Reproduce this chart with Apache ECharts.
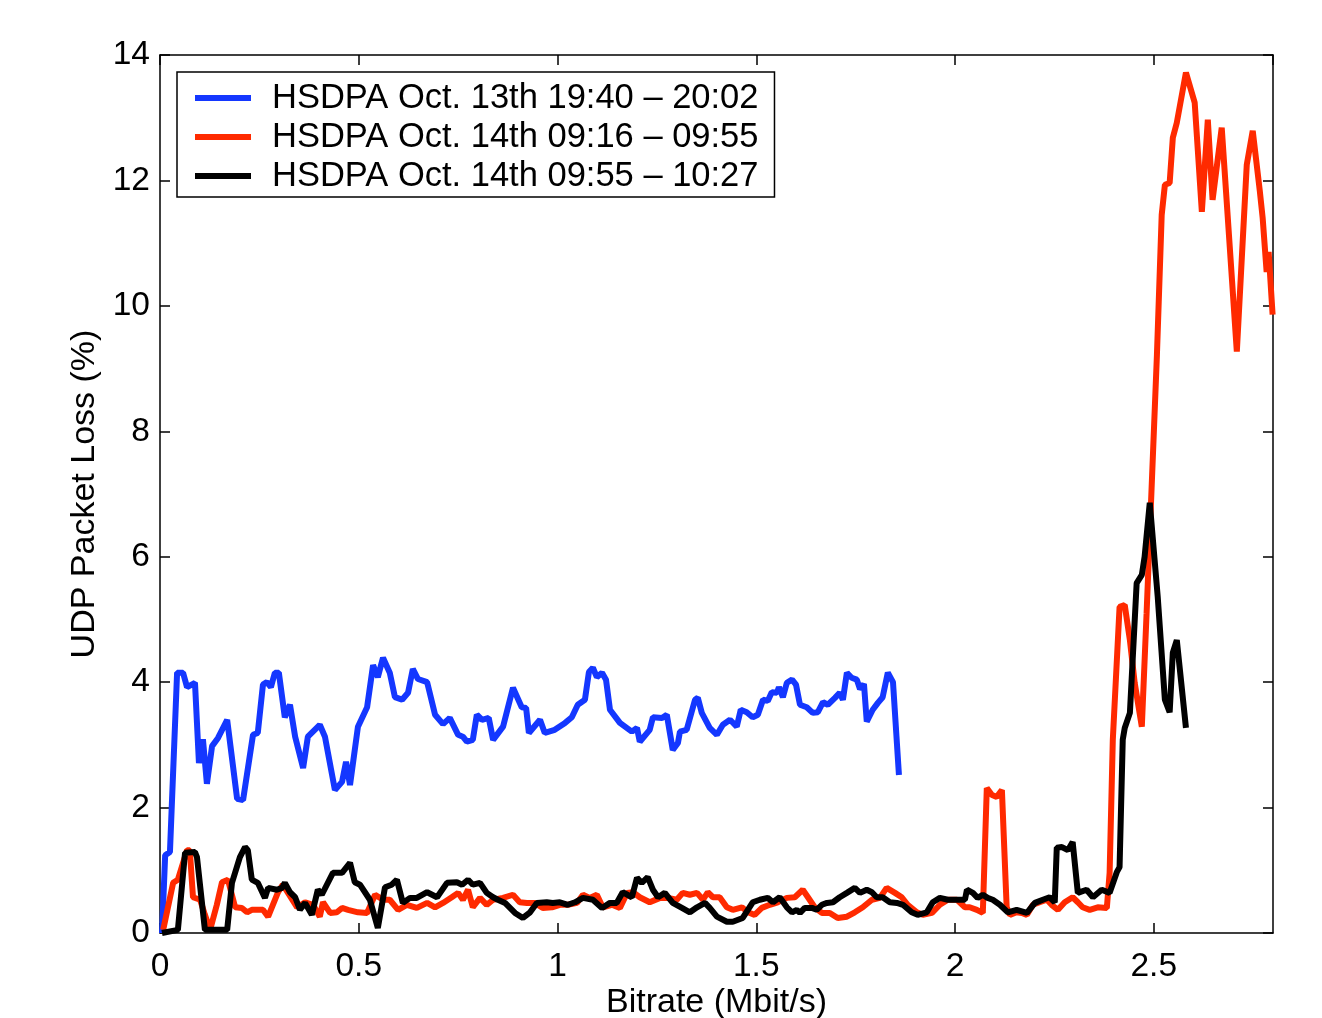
<!DOCTYPE html>
<html>
<head>
<meta charset="utf-8">
<script src="https://cdn.jsdelivr.net/npm/echarts@6/dist/echarts.min.js"></script>
<style>
  html, body { margin: 0; padding: 0; background: #fff; }
  #main { width: 1322px; height: 1018px; }
</style>
</head>
<body>
<div id="main"></div>
<script>
var seriesNames = [
  'HSDPA Oct. 13th 19:40 \u2013 20:02',
  'HSDPA Oct. 14th 09:16 \u2013 09:55',
  'HSDPA Oct. 14th 09:55 \u2013 10:27'
];

// [bitrate Mbit/s, loss %]
var blueLoss = [
  [0.005,0],[0.013,1.24],[0.025,1.29],[0.043,4.15],[0.058,4.15],[0.068,3.92],[0.088,3.99],[0.098,2.71],
  [0.108,3.09],[0.118,2.38],[0.131,2.98],[0.146,3.11],[0.169,3.40],[0.194,2.14],[0.209,2.12],[0.234,3.16],
  [0.246,3.19],[0.259,3.96],[0.269,4.0],[0.279,3.92],[0.289,4.15],[0.299,4.15],[0.314,3.44],[0.327,3.64],
  [0.340,3.13],[0.360,2.63],[0.372,3.13],[0.402,3.32],[0.415,3.13],[0.440,2.28],[0.458,2.41],[0.468,2.73],
  [0.478,2.36],[0.498,3.29],[0.521,3.60],[0.536,4.27],[0.548,4.08],[0.561,4.39],[0.578,4.15],[0.591,3.76],
  [0.609,3.72],[0.624,3.83],[0.636,4.21],[0.649,4.05],[0.672,4.0],[0.692,3.48],[0.712,3.33],[0.729,3.43],
  [0.750,3.16],[0.762,3.13],[0.772,3.05],[0.787,3.08],[0.797,3.48],[0.810,3.40],[0.827,3.43],[0.838,3.08],
  [0.863,3.29],[0.888,3.91],[0.910,3.60],[0.921,3.59],[0.928,3.19],[0.956,3.40],[0.968,3.19],[0.993,3.24],
  [1.019,3.35],[1.036,3.44],[1.051,3.64],[1.069,3.72],[1.079,4.16],[1.089,4.23],[1.099,4.08],[1.112,4.15],
  [1.122,4.04],[1.132,3.56],[1.157,3.35],[1.187,3.21],[1.200,3.27],[1.207,3.05],[1.232,3.24],[1.240,3.44],
  [1.263,3.43],[1.275,3.48],[1.290,2.92],[1.303,3.03],[1.308,3.21],[1.325,3.24],[1.346,3.72],[1.353,3.75],
  [1.363,3.51],[1.383,3.27],[1.401,3.16],[1.416,3.32],[1.434,3.40],[1.451,3.29],[1.461,3.56],[1.476,3.52],
  [1.491,3.44],[1.504,3.48],[1.517,3.72],[1.529,3.70],[1.539,3.84],[1.552,3.83],[1.557,3.92],[1.567,3.76],
  [1.577,3.99],[1.590,4.04],[1.600,3.96],[1.610,3.64],[1.627,3.60],[1.642,3.51],[1.655,3.52],[1.668,3.68],
  [1.680,3.64],[1.698,3.75],[1.710,3.83],[1.718,3.72],[1.728,4.15],[1.740,4.07],[1.753,4.04],[1.761,3.89],
  [1.771,3.97],[1.778,3.37],[1.793,3.56],[1.806,3.67],[1.818,3.76],[1.831,4.15],[1.844,4.00],[1.859,2.52]
];

var redLoss = [
  [0.008,0.05],[0.033,0.80],[0.045,0.85],[0.068,1.32],[0.075,1.32],[0.083,0.57],[0.101,0.53],[0.113,0.29],
  [0.126,0.05],[0.143,0.45],[0.156,0.81],[0.171,0.85],[0.189,0.41],[0.206,0.40],[0.219,0.33],[0.231,0.37],
  [0.259,0.37],[0.272,0.26],[0.297,0.65],[0.309,0.77],[0.322,0.64],[0.345,0.41],[0.365,0.49],[0.385,0.45],
  [0.402,0.26],[0.410,0.49],[0.428,0.32],[0.445,0.33],[0.458,0.40],[0.473,0.37],[0.498,0.33],[0.521,0.32],
  [0.541,0.61],[0.561,0.53],[0.578,0.53],[0.599,0.37],[0.621,0.45],[0.646,0.40],[0.672,0.48],[0.692,0.41],
  [0.712,0.48],[0.734,0.57],[0.750,0.64],[0.762,0.53],[0.775,0.69],[0.787,0.41],[0.805,0.56],[0.822,0.45],
  [0.838,0.53],[0.863,0.56],[0.888,0.61],[0.905,0.49],[0.923,0.48],[0.943,0.48],[0.963,0.40],[0.986,0.41],
  [1.006,0.45],[1.026,0.45],[1.049,0.48],[1.064,0.61],[1.081,0.56],[1.099,0.61],[1.114,0.41],[1.137,0.45],
  [1.157,0.40],[1.175,0.64],[1.190,0.65],[1.207,0.57],[1.232,0.49],[1.258,0.56],[1.278,0.56],[1.300,0.53],
  [1.315,0.64],[1.333,0.61],[1.351,0.64],[1.366,0.53],[1.378,0.65],[1.391,0.57],[1.408,0.57],[1.426,0.41],
  [1.441,0.37],[1.464,0.41],[1.479,0.33],[1.496,0.29],[1.514,0.40],[1.534,0.45],[1.554,0.49],[1.577,0.56],
  [1.597,0.57],[1.617,0.69],[1.630,0.57],[1.647,0.41],[1.665,0.32],[1.685,0.32],[1.705,0.24],[1.728,0.26],
  [1.748,0.33],[1.768,0.41],[1.791,0.53],[1.811,0.56],[1.828,0.72],[1.849,0.64],[1.866,0.57],[1.881,0.45],
  [1.904,0.33],[1.919,0.29],[1.942,0.32],[1.962,0.45],[1.982,0.53],[2.005,0.53],[2.025,0.41],[2.037,0.41],
  [2.055,0.37],[2.070,0.32],[2.080,2.31],[2.093,2.20],[2.105,2.17],[2.118,2.28],[2.130,0.41],[2.138,0.29],
  [2.155,0.33],[2.168,0.32],[2.181,0.29],[2.196,0.45],[2.213,0.49],[2.231,0.53],[2.243,0.45],[2.259,0.37],
  [2.276,0.49],[2.296,0.57],[2.309,0.49],[2.321,0.41],[2.339,0.37],[2.359,0.41],[2.382,0.40],[2.389,0.96],
  [2.397,3.08],[2.414,5.20],[2.427,5.23],[2.440,4.67],[2.452,3.99],[2.470,3.29],[2.482,5.10],[2.508,9.22],
  [2.520,11.45],[2.528,11.93],[2.540,11.96],[2.548,12.68],[2.558,12.92],[2.581,13.72],[2.603,13.24],[2.621,11.50],
  [2.636,12.97],[2.648,11.69],[2.671,12.84],[2.709,9.27],[2.734,12.25],[2.749,12.79],[2.767,11.82],[2.774,11.40],
  [2.784,10.54],[2.789,10.86],[2.799,9.86]
];

var blackLoss = [
  [0.005,0.0],[0.045,0.05],[0.063,1.28],[0.088,1.29],[0.093,1.21],[0.113,0.05],[0.169,0.05],[0.181,0.80],
  [0.201,1.21],[0.214,1.37],[0.221,1.32],[0.231,0.85],[0.246,0.80],[0.264,0.56],[0.272,0.72],[0.294,0.69],
  [0.307,0.72],[0.314,0.80],[0.327,0.65],[0.340,0.57],[0.352,0.37],[0.365,0.48],[0.382,0.29],[0.397,0.69],
  [0.407,0.61],[0.435,0.96],[0.458,0.96],[0.478,1.12],[0.490,0.81],[0.503,0.77],[0.528,0.53],[0.548,0.08],
  [0.566,0.73],[0.583,0.77],[0.596,0.85],[0.611,0.48],[0.629,0.56],[0.646,0.56],[0.672,0.65],[0.697,0.57],
  [0.722,0.80],[0.747,0.81],[0.760,0.77],[0.775,0.85],[0.787,0.77],[0.805,0.80],[0.822,0.64],[0.838,0.57],
  [0.850,0.53],[0.868,0.48],[0.893,0.32],[0.913,0.24],[0.931,0.33],[0.948,0.48],[0.973,0.49],[0.988,0.48],
  [1.006,0.49],[1.026,0.45],[1.044,0.49],[1.064,0.56],[1.089,0.53],[1.112,0.40],[1.132,0.48],[1.149,0.48],
  [1.164,0.65],[1.187,0.57],[1.200,0.88],[1.212,0.80],[1.227,0.89],[1.240,0.69],[1.253,0.57],[1.270,0.64],
  [1.290,0.48],[1.313,0.40],[1.333,0.33],[1.351,0.41],[1.371,0.48],[1.383,0.40],[1.401,0.26],[1.426,0.18],
  [1.441,0.18],[1.466,0.24],[1.491,0.49],[1.509,0.53],[1.529,0.56],[1.542,0.49],[1.559,0.57],[1.577,0.41],
  [1.590,0.33],[1.602,0.37],[1.610,0.32],[1.622,0.40],[1.640,0.40],[1.652,0.37],[1.665,0.45],[1.678,0.48],
  [1.693,0.49],[1.710,0.57],[1.728,0.64],[1.748,0.72],[1.761,0.64],[1.778,0.69],[1.791,0.65],[1.803,0.57],
  [1.818,0.57],[1.836,0.49],[1.854,0.48],[1.869,0.45],[1.891,0.33],[1.906,0.29],[1.929,0.33],[1.944,0.49],
  [1.962,0.56],[1.982,0.53],[2.005,0.53],[2.025,0.53],[2.030,0.69],[2.045,0.64],[2.057,0.56],[2.070,0.61],
  [2.082,0.56],[2.095,0.53],[2.113,0.45],[2.133,0.33],[2.155,0.37],[2.181,0.32],[2.201,0.48],[2.221,0.53],
  [2.238,0.57],[2.251,0.49],[2.256,1.36],[2.269,1.37],[2.284,1.32],[2.296,1.45],[2.309,0.64],[2.331,0.69],
  [2.347,0.57],[2.369,0.69],[2.389,0.64],[2.407,0.97],[2.414,1.05],[2.422,3.08],[2.427,3.27],[2.440,3.51],
  [2.457,5.58],[2.470,5.71],[2.477,6.00],[2.490,6.86],[2.510,5.36],[2.528,3.72],[2.540,3.52],[2.548,4.47],
  [2.558,4.67],[2.581,3.27]
];

var lineColors = ['#1437ff', '#ff2a00', '#000000'];
var font = 'Liberation Sans, Arial, Helvetica, sans-serif';

var myChart = echarts.init(document.getElementById('main'));

// fresh objects for every axis so echarts doesn't share them
function frameLine() {
    return { show: true, onZero: false, lineStyle: { color: '#000', width: 1.5 } };
}
function frameTick() {
    return { show: true, inside: true, length: 10, lineStyle: { color: '#000', width: 1.5 } };
}

var option = {
    animation: false,
    backgroundColor: '#fff',
    color: lineColors,
    grid: { left: 160, right: 49, top: 55, bottom: 85, outerBoundsMode: 'none' },
    legend: {
        orient: 'vertical',
        left: 177,
        top: 72,
        padding: [8, 16, 3, 18],
        itemWidth: 56,
        itemHeight: 6,
        itemGap: 3,
        icon: 'rect',
        borderColor: '#000',
        borderWidth: 1.5,
        borderRadius: 0,
        backgroundColor: '#fff',
        textStyle: { fontFamily: font, fontSize: 34.5, color: '#000', lineHeight: 36, padding: [0, 0, 0, 16] },
        data: seriesNames
    },
    xAxis: [{
        type: 'value',
        min: 0, max: 2.8, interval: 0.5,
        name: 'Bitrate (Mbit/s)',
        nameLocation: 'middle',
        nameGap: 53,
        nameMoveOverlap: false,
        nameTextStyle: { fontFamily: font, fontSize: 34, color: '#000' },
        axisLine: frameLine(),
        axisTick: frameTick(),
        splitLine: { show: false },
        axisLabel: { fontFamily: font, fontSize: 33.5, color: '#000', margin: 17, showMaxLabel: false }
    }, {
        type: 'value', position: 'top', show: true,
        min: 0, max: 2.8, interval: 0.5,
        axisLine: frameLine(),
        axisTick: frameTick(),
        splitLine: { show: false },
        axisLabel: { show: false }
    }],
    yAxis: [{
        type: 'value',
        min: 0, max: 14, interval: 2,
        name: 'UDP Packet Loss (%)',
        nameLocation: 'middle',
        nameGap: 58,
        nameMoveOverlap: false,
        nameTextStyle: { fontFamily: font, fontSize: 34, color: '#000' },
        axisLine: frameLine(),
        axisTick: frameTick(),
        splitLine: { show: false },
        axisLabel: { fontFamily: font, fontSize: 33.5, color: '#000', margin: 10 }
    }, {
        type: 'value', position: 'right', show: true,
        min: 0, max: 14, interval: 2,
        axisLine: frameLine(),
        axisTick: frameTick(),
        splitLine: { show: false },
        axisLabel: { show: false }
    }],
    series: [
        { name: seriesNames[0], type: 'line', data: blueLoss, showSymbol: false, lineStyle: { width: 6, color: lineColors[0] } },
        { name: seriesNames[1], type: 'line', data: redLoss, showSymbol: false, lineStyle: { width: 6, color: lineColors[1] } },
        { name: seriesNames[2], type: 'line', data: blackLoss, showSymbol: false, lineStyle: { width: 6, color: lineColors[2] } }
    ]
};

myChart.setOption(option);
</script>
</body>
</html>
